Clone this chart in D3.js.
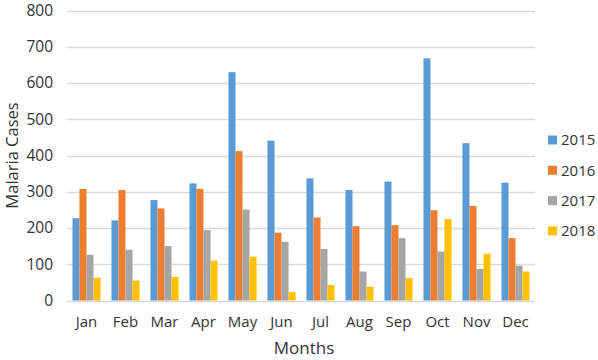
<!DOCTYPE html>
<html>
<head>
<meta charset="utf-8">
<script src="https://cdn.jsdelivr.net/npm/d3@7"></script>
<style>
  body { margin: 0; background: #fff; }
  svg { display: block; font-family: "Open Sans", sans-serif; }
</style>
</head>
<body>
<div id="chart"></div>
<script>
const months = ["Jan", "Feb", "Mar", "Apr", "May", "Jun", "Jul", "Aug", "Sep", "Oct", "Nov", "Dec"];
const years = ["2015", "2016", "2017", "2018"];
const cases2015 = [227, 221, 277, 323, 630, 441, 337, 305, 328, 668, 434, 325];
const cases2016 = [308, 305, 254, 308, 412, 187, 229, 205, 208, 249, 261, 172];
const cases2017 = [126, 140, 150, 194, 251, 162, 142, 80, 172, 135, 87, 96];
const cases2018 = [63, 55, 65, 110, 121, 23, 43, 38, 62, 225, 129, 80];
const yTicks = [0, 100, 200, 300, 400, 500, 600, 700, 800];
const colors = ["#5B9BD5", "#ED7D31", "#A5A5A5", "#FFC000"];

const width = 598, height = 360;
const margin = { top: 10.5, right: 63, bottom: 59.5, left: 67 };
const textColor = "#333";

const series = [cases2015, cases2016, cases2017, cases2018];
const rows = months.map((m, i) => ({ month: m, values: series.map((s) => s[i]) }));

const x = d3.scaleBand().domain(months).range([margin.left, width - margin.right]).paddingInner(0.28).paddingOuter(0.14);
const xs = d3.scaleBand().domain(years).range([0, x.bandwidth()]);
const y = d3.scaleLinear().domain([0, 800]).range([height - margin.bottom, margin.top]);
const color = d3.scaleOrdinal().domain(years).range(colors);

const svg = d3.select("#chart").append("svg").attr("width", width).attr("height", height);

// grid
svg.append("g")
  .selectAll("line")
  .data(yTicks)
  .join("line")
  .attr("x1", margin.left)
  .attr("x2", width - margin.right)
  .attr("y1", (d) => Math.round(y(d)) + 0.5)
  .attr("y2", (d) => Math.round(y(d)) + 0.5)
  .attr("stroke", "#d9d9d9")
  .attr("stroke-width", 1.5);

// bars
svg.append("g")
  .selectAll("g")
  .data(rows)
  .join("g")
  .attr("transform", (d) => `translate(${x(d.month)},0)`)
  .selectAll("rect")
  .data((d) => d.values.map((v, i) => ({ year: years[i], value: v })))
  .join("rect")
  .attr("x", (d) => xs(d.year))
  .attr("width", xs.bandwidth())
  .attr("y", (d) => y(d.value))
  .attr("height", (d) => y(0) - y(d.value))
  .attr("fill", (d) => color(d.year));

// y axis
const gY = svg.append("g")
  .attr("transform", `translate(${margin.left - 14},0)`)
  .call(d3.axisLeft(y).tickValues(yTicks).tickSize(0).tickPadding(0));
gY.select(".domain").remove();
gY.selectAll("text").attr("font-size", 15.5).attr("fill", textColor).attr("font-family", "Open Sans, sans-serif");

// x axis
const gX = svg.append("g")
  .attr("transform", `translate(0,${height - margin.bottom + 10})`)
  .call(d3.axisBottom(x).tickSize(0).tickPadding(6));
gX.select(".domain").remove();
gX.selectAll("text").attr("font-size", 15).attr("fill", textColor).attr("font-family", "Open Sans, sans-serif");

// axis titles
svg.append("text")
  .attr("x", 304)
  .attr("y", 354)
  .attr("text-anchor", "middle")
  .attr("font-size", 17)
  .attr("fill", textColor)
  .text("Months");

svg.append("text")
  .attr("transform", `translate(18,${(margin.top + height - margin.bottom) / 2}) rotate(-90)`)
  .attr("text-anchor", "middle")
  .attr("font-size", 16.5)
  .attr("fill", textColor)
  .text("Malaria Cases");

// legend
const legend = svg.append("g")
  .selectAll("g")
  .data(years)
  .join("g")
  .attr("transform", (d, i) => `translate(548,${140 + i * 30.3})`);
legend.append("rect")
  .attr("x", 0)
  .attr("y", -4.5)
  .attr("width", 9)
  .attr("height", 9)
  .attr("fill", (d) => color(d));
legend.append("text")
  .attr("x", 13)
  .attr("dy", "0.35em")
  .attr("font-size", 15)
  .attr("fill", textColor)
  .text((d) => d);
</script>
</body>
</html>
